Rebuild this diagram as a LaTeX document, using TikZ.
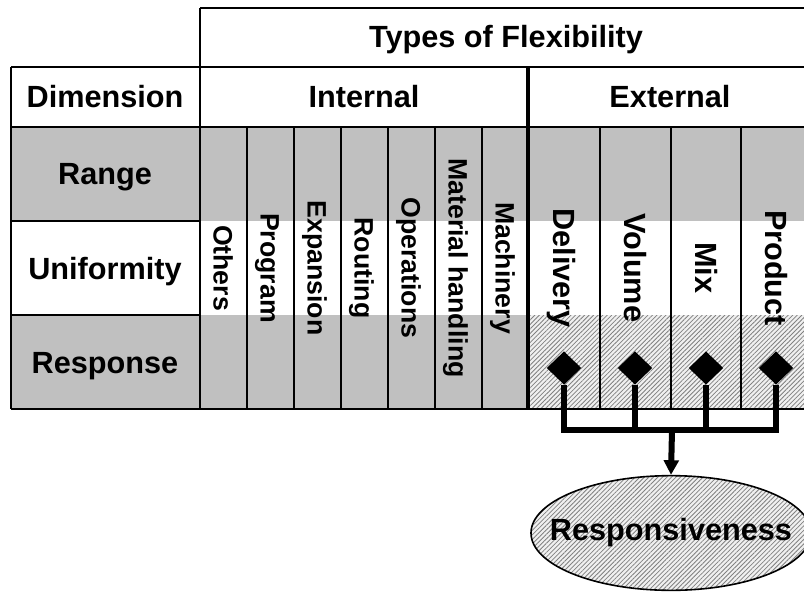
\documentclass[tikz,border=0pt]{standalone}
\usepackage{fontspec}
\setmainfont{Liberation Sans}
\usetikzlibrary{shapes.geometric,patterns.meta,arrows.meta}
\definecolor{silver}{HTML}{C0C0C0}

\begin{document}
\begin{tikzpicture}[x=0.75pt,y=-0.75pt]
    \tikzstyle{every node}=[font=\fontsize{23}{27}\selectfont\bfseries, inner sep=0pt];
    \tikzstyle{lab}=[anchor=base];
    \tikzstyle{side}=[anchor=base, rotate=-90, font=\fontsize{20}{24}\selectfont\bfseries];
    \tikzstyle{sidebig}=[anchor=base, rotate=-90];
    \tikzstyle{grid}=[line width=1.5pt];
    \tikzstyle{hatch}=[preaction={fill=gray!12}, pattern={Lines[angle=45,distance=2.4pt,line width=0.6pt]}, pattern color=black!50];
    \tikzstyle{knot}=[diamond, fill=black, minimum width=26pt, minimum height=25pt];
    \tikzstyle{link}=[line width=4.5pt];
    \useasboundingbox (0,0) rectangle (804,592);
    \clip (0,0) rectangle (804,592);
    % rows
    \fill[silver] (11,127) rectangle (812,221);
    \fill[silver] (11,315) rectangle (528,409);
    \fill[hatch] (528,315) rectangle (812,409);
    % table lines
    \draw[grid] (200,8) -- (812,8);
    \draw[grid] (11,67) -- (812,67);
    \draw[grid] (11,127) -- (812,127);
    \draw[grid] (11,221) -- (200,221);
    \draw[grid] (11,315) -- (200,315);
    \draw[grid] (11,409) -- (812,409);
    \draw[grid] (11,67) -- (11,409);
    \draw[grid] (200,8) -- (200,409);
    \foreach \x in {247,294,341,388,435,482,600,671,741}
        \draw[grid] (\x,127) -- (\x,409);
    \draw[line width=3.6pt] (528,67) -- (528,409);
    % headings
    \node[lab] (types) at (506,48) {Types of Flexibility};
    \node[lab] (dim) at (105,108) {Dimension};
    \node[lab] (int) at (364,108) {Internal};
    \node[lab] (ext) at (670,108) {External};
    \node[lab] (range) at (105,185) {Range};
    \node[lab] (unif) at (105,279) {Uniformity};
    \node[lab] (resp) at (105,373) {Response};
    % kinds of flexibility
    \foreach \x/\t/\n in {223/Others/others, 270/Program/program, 317/Expansion/expansion,
        364/Routing/routing, 411/Operations/operations, 458/Material handling/material,
        505/Machinery/machinery}
        \node[side] (\n) at (\x-9.5,268) {\t};
    \foreach \x/\t/\n in {564/Delivery/delivery, 635/Volume/volume, 706/Mix/mix, 776/Product/product}
        \node[sidebig] (\n) at (\x-11,268) {\t};
    % responsiveness
    \node[knot] (d1) at (564,368) {};
    \node[knot] (d2) at (635,368) {};
    \node[knot] (d3) at (706,368) {};
    \node[knot] (d4) at (776,368) {};
    \node[ellipse, draw, line width=1.2pt, hatch, minimum width=210pt, minimum height=86pt] (respo) at (671,533) {};
    \node (respt) at (respo.center) {Responsiveness};
    \coordinate (bar) at (672,430);
    \draw[link] (d1.south) |- (bar);
    \draw[link] (d4.south) |- (bar);
    \draw[link] (d2.south) -- (d2.south |- bar);
    \draw[link] (d3.south) -- (d3.south |- bar);
    \draw[link, -{Triangle[width=11pt,length=11pt]}] (bar) -- (respo.north);
  \end{tikzpicture}
\end{document}
